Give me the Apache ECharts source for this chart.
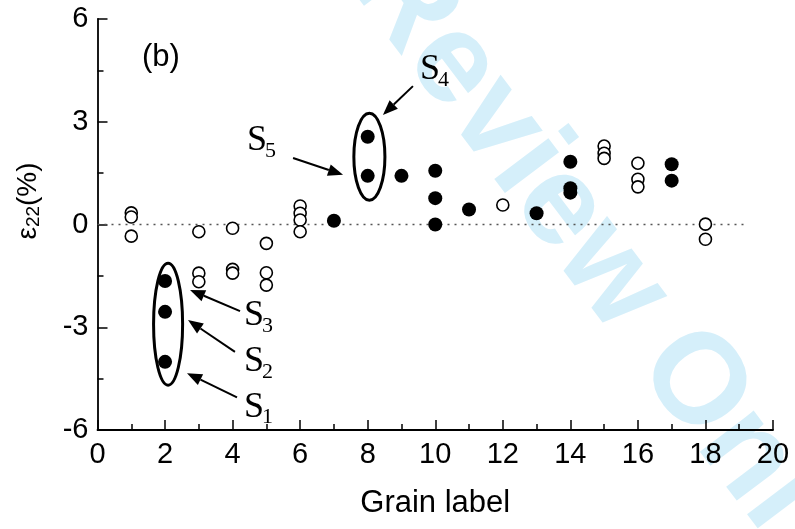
<!DOCTYPE html>
<html><head><meta charset="utf-8">
<script src="https://cdn.jsdelivr.net/npm/echarts@6/dist/echarts.min.js"></script>
<style>html,body{margin:0;padding:0;background:#fff}#c{width:795px;height:529px}</style>
</head><body><div id="c"></div>
<script>
// ---- data ----
const xTickLabels = [0, 2, 4, 6, 8, 10, 12, 14, 16, 18, 20];
const yTickLabels = [-6, -3, 0, 3, 6];
const openGrain  = [1, 1, 1, 3, 3, 3, 4, 4, 4, 5, 5, 5, 6, 6, 6, 6, 12, 15, 15, 15, 16, 16, 16, 18, 18];
const openStrain = [0.34, 0.22, -0.34, -0.21, -1.42, -1.67, -0.11, -1.31, -1.42, -0.55, -1.41, -1.77, 0.54, 0.33, 0.13, -0.21, 0.57, 2.29, 2.08, 1.93, 1.79, 1.32, 1.10, 0.01, -0.43];
const filledGrain  = [2, 2, 2, 7, 8, 8, 9, 10, 10, 10, 11, 13, 14, 14, 14, 17, 17];
const filledStrain = [-1.65, -2.55, -4.01, 0.11, 2.56, 1.42, 1.42, 1.57, 0.77, 0.0, 0.44, 0.33, 1.83, 1.06, 0.93, 1.76, 1.28];
const zeroLineX = [0, 19.26];

// annotations (data coordinates)
const ellipses = [
  {cx: 2.09, cy: -2.91, rx: 0.43, ry: 1.78},
  {cx: 8.05, cy: 1.98, rx: 0.46, ry: 1.27}
];
const arrows = [
  {from: [9.34, 4.04], to: [8.45, 3.20]},
  {from: [5.79, 1.94], to: [7.27, 1.45]},
  {from: [4.22, -2.53], to: [2.74, -1.91]},
  {from: [4.07, -3.72], to: [2.68, -2.79]},
  {from: [4.13, -5.05], to: [2.65, -4.34]}
];
const sLabels = [
  {sub: '4', at: [9.55, 4.51]},
  {sub: '5', at: [4.43, 2.44]},
  {sub: '3', at: [4.34, -2.67]},
  {sub: '2', at: [4.34, -4.01]},
  {sub: '1', at: [4.34, -5.33]}
];

const pts = (xs, ys) => xs.map((x, i) => [x, ys[i]]);
const SANS = 'Liberation Sans, Arial, sans-serif';
const SERIF = 'Liberation Serif, Times New Roman, serif';

const chart = echarts.init(document.getElementById('c'), null, {renderer: 'canvas'});
const axisCommon = {
  axisLine: {show: true, onZero: false, lineStyle: {color: '#000', width: 1.8}},
  axisTick: {show: true, inside: true, length: 10, lineStyle: {color: '#000', width: 1.5}},
  minorTick: {show: true, splitNumber: 2, length: 6, lineStyle: {color: '#000', width: 1.5}},
  splitLine: {show: false},
  minorSplitLine: {show: false}
};
chart.setOption({
  animation: false,
  backgroundColor: '#fff',
  grid: {left: 97.5, right: 22, top: 19, bottom: 99, containLabel: false},
  xAxis: Object.assign({
    type: 'value', min: xTickLabels[0], max: xTickLabels[xTickLabels.length - 1], interval: 2,
    axisLabel: {color: '#000', fontSize: 29, fontFamily: SANS, margin: 10, showMinLabel: true, showMaxLabel: true},
    name: 'Grain label', nameLocation: 'middle', nameGap: 58,
    nameTextStyle: {color: '#000', fontSize: 31, fontFamily: SANS}
  }, axisCommon),
  yAxis: Object.assign({
    type: 'value', min: yTickLabels[0], max: yTickLabels[yTickLabels.length - 1], interval: 3,
    axisLabel: {color: '#000', fontSize: 29, fontFamily: SANS, margin: 9, showMinLabel: true, showMaxLabel: true}
  }, axisCommon),
  series: [
    {type: 'line', data: pts(zeroLineX, [0, 0]), symbol: 'none', silent: true, z: 1,
     lineStyle: {color: '#555', width: 1.6, type: [2, 5]}},
    {type: 'scatter', name: 'open', data: pts(openGrain, openStrain), symbol: 'circle', symbolSize: 12, z: 3,
     itemStyle: {color: '#fff', borderColor: '#000', borderWidth: 1.6, opacity: 1}},
    {type: 'scatter', name: 'filled', data: pts(filledGrain, filledStrain), symbol: 'circle', symbolSize: 14, z: 4,
     itemStyle: {color: '#000', opacity: 1}}
  ]
});

function px(p) { return chart.convertToPixel({gridIndex: 0}, p); }
const g = [];
// watermark
g.push({type: 'text', x: 376, y: -37, rotation: -53 * Math.PI / 180, z: -10, silent: true,
  style: {text: 'Review Only', fill: '#d5effa', font: 'bold 128px ' + SANS, align: 'left', verticalAlign: 'middle'}});
// y-axis name
g.push({type: 'text', x: 28, y: 201, rotation: Math.PI / 2, z: 10,
  style: {text: '{a|ε}{s|22}{a|(%)}', align: 'center', verticalAlign: 'middle',
    rich: {a: {fontSize: 28, fontFamily: SANS, fill: '#000', lineHeight: 30},
           s: {fontSize: 19, fontFamily: SANS, fill: '#000', verticalAlign: 'bottom', lineHeight: 18}}}});
// panel label
g.push({type: 'text', x: 142, y: 57, z: 10,
  style: {text: '(b)', font: '31px ' + SANS, fill: '#000', align: 'left', verticalAlign: 'middle'}});
// ellipses
ellipses.forEach(e => {
  const c = px([e.cx, e.cy]);
  const r = px([e.cx + e.rx, e.cy + e.ry]);
  g.push({type: 'ellipse', z: 10, shape: {cx: c[0], cy: c[1], rx: Math.abs(r[0] - c[0]), ry: Math.abs(r[1] - c[1])},
    style: {fill: 'none', stroke: '#000', lineWidth: 3}});
});
// arrows
arrows.forEach(a => {
  const p0 = px(a.from), p1 = px(a.to);
  const dx = p1[0] - p0[0], dy = p1[1] - p0[1];
  const L = Math.hypot(dx, dy), ux = dx / L, uy = dy / L;
  const hl = 15, hw = 6;
  const bx = p1[0] - ux * hl, by = p1[1] - uy * hl;
  g.push({type: 'line', z: 10, shape: {x1: p0[0], y1: p0[1], x2: bx, y2: by}, style: {stroke: '#000', lineWidth: 2}});
  g.push({type: 'polygon', z: 10, shape: {points: [[p1[0], p1[1]], [bx - uy * hw, by + ux * hw], [bx + uy * hw, by - ux * hw]]},
    style: {fill: '#000'}});
});
// S labels
sLabels.forEach(s => {
  const p = px(s.at);
  g.push({type: 'text', x: p[0], y: p[1], z: 10,
    style: {text: 'S', font: '36px ' + SERIF, fill: '#000', align: 'left', verticalAlign: 'middle'}});
  g.push({type: 'text', x: p[0] + 18, y: p[1] + 10, z: 10,
    style: {text: s.sub, font: '22px ' + SERIF, fill: '#000', align: 'left', verticalAlign: 'middle'}});
});
chart.setOption({graphic: g});
</script>
</body></html>
